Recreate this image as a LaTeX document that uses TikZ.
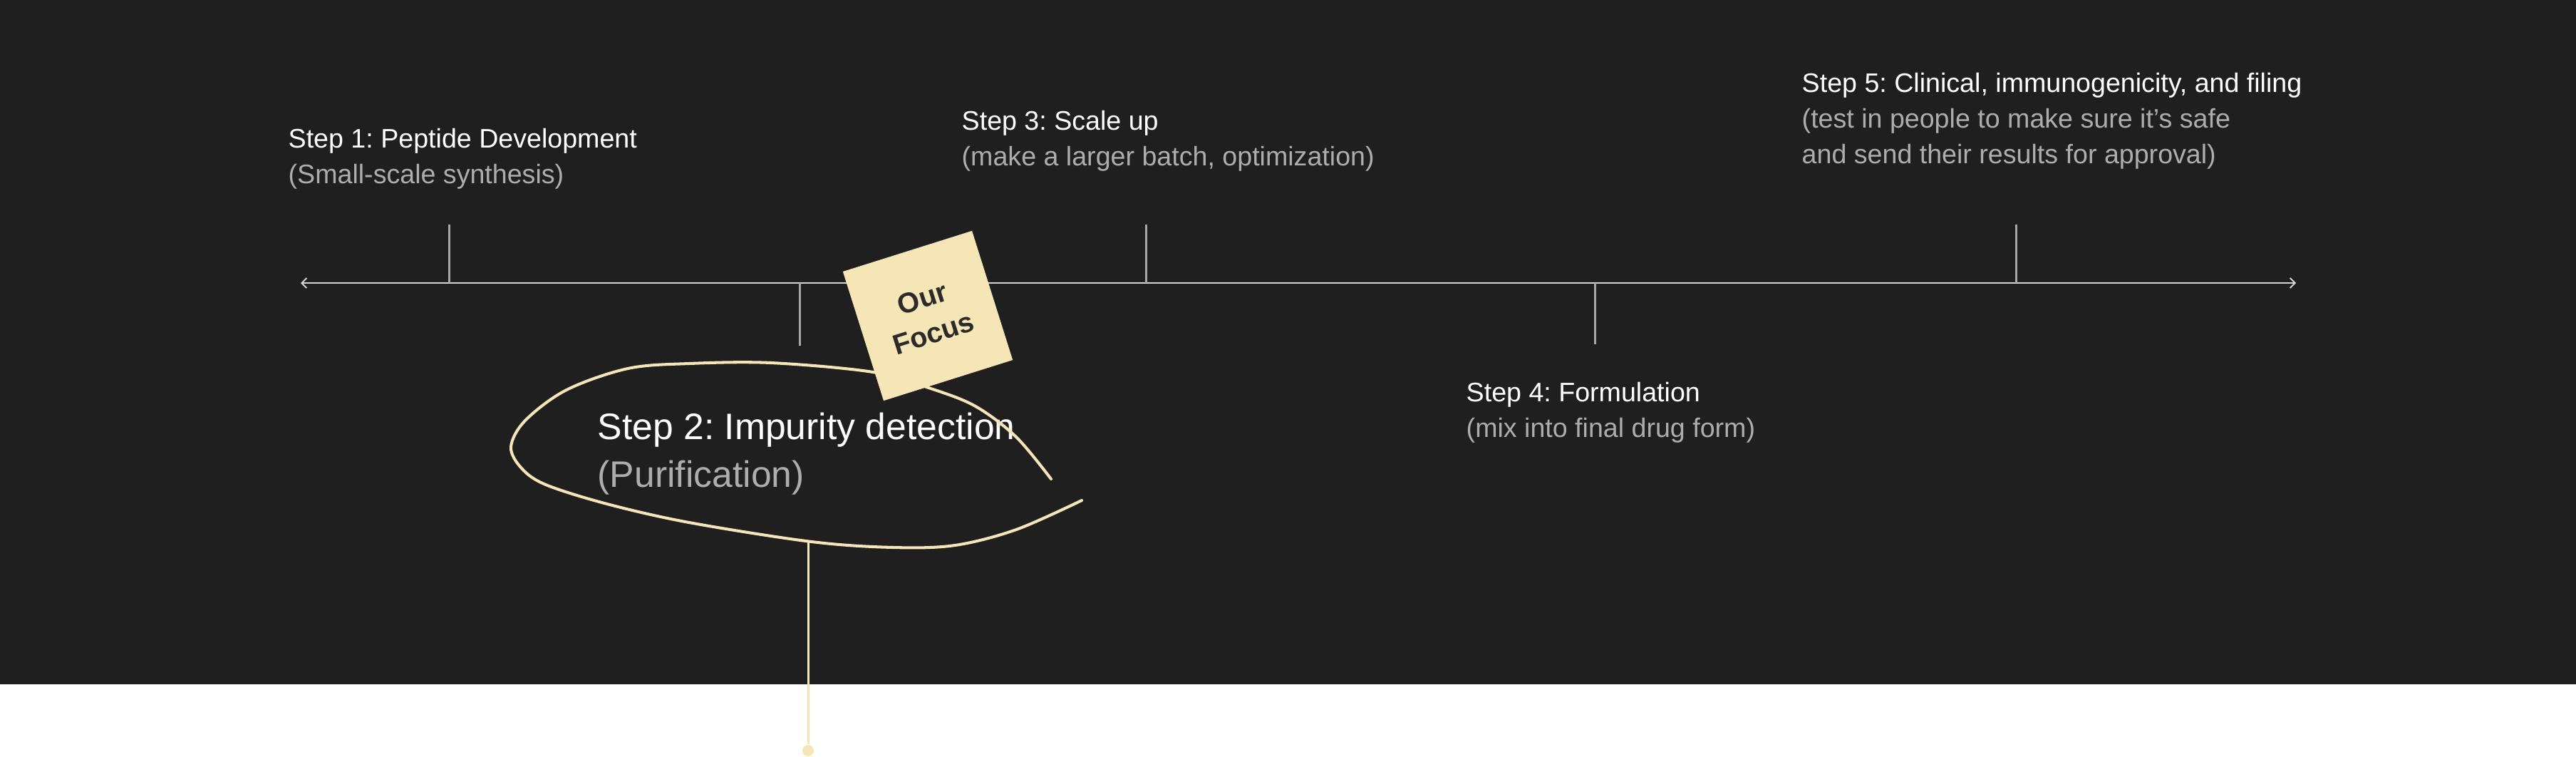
\documentclass[tikz,border=0pt]{standalone}
\usepackage{fontspec}
\setmainfont{Liberation Sans}
\usepackage{xcolor}
\usepackage{tikz}
\usetikzlibrary{arrows.meta, positioning}
\frenchspacing
\definecolor{bgdark}{HTML}{1F1F1F}
\definecolor{notepaper}{HTML}{F6E6B6}
\definecolor{subgray}{HTML}{ADADAD}
\definecolor{axisgray}{HTML}{D4D4D4}
\definecolor{tickgray}{HTML}{A8A8A8}
\definecolor{focusink}{HTML}{2B2B2B}
\tikzset{
  steplabel/.style={
    align=left, inner sep=0pt, anchor=north west, text=white,
    font=\fontsize{10.7}{14.2}\selectfont
  },
  focuslabel/.style={steplabel, font=\fontsize{14.7}{19.3}\selectfont},
  stickynote/.style={
    fill=notepaper, minimum size=1.9cm, inner sep=0pt, align=center,
    text=focusink, font=\bfseries\fontsize{11.3}{14.6}\selectfont
  },
  timeline/.style={{Straight Barb[length=0.7mm,width=1.4mm]}-{Straight Barb[length=0.7mm,width=1.4mm]}, axisgray, line width=0.55pt},
  tickline/.style={tickgray, line width=0.85pt},
  loopline/.style={notepaper, line width=1.15pt, line cap=round},
  pinline/.style={notepaper, line width=0.85pt},
  pindot/.style={circle, fill=notepaper, minimum size=0.16cm, inner sep=0pt},
}

\begin{document}
\begin{tikzpicture}
  % Canvas
  \fill[white] (0,0) rectangle (36.15,-10.61);
  \fill[bgdark] (0,0) rectangle (36.15,-9.60);
  \useasboundingbox (0,0) rectangle (36.15,-10.61);

  % Timeline axis
  \coordinate (axisL) at (4.22,-3.97);
  \coordinate (axisR) at (32.22,-3.97);
  \draw[timeline] (axisL) -- (axisR);

  % Ticks
  \coordinate (tick1) at (6.30,-3.97);  \coordinate (tick1end) at (6.30,-3.15);
  \coordinate (tick2) at (11.22,-3.97); \coordinate (tick2end) at (11.22,-4.85);
  \coordinate (tick3) at (16.08,-3.97); \coordinate (tick3end) at (16.08,-3.15);
  \coordinate (tick4) at (22.38,-3.97); \coordinate (tick4end) at (22.38,-4.83);
  \coordinate (tick5) at (28.29,-3.97); \coordinate (tick5end) at (28.29,-3.15);
  \draw[tickline] (tick1) -- (tick1end);
  \draw[tickline] (tick2) -- (tick2end);
  \draw[tickline] (tick3) -- (tick3end);
  \draw[tickline] (tick4) -- (tick4end);
  \draw[tickline] (tick5) -- (tick5end);

  % Step labels
  \node[steplabel] (step1) at (4.04,-1.80) {Step 1: Peptide Development\\\textcolor{subgray}{(Small-scale synthesis)}};
  \node[steplabel] (step3) at (13.49,-1.55) {Step 3: Scale up\\\textcolor{subgray}{(make a larger batch, optimization)}};
  \node[steplabel] (step4) at (20.57,-5.36) {Step 4: Formulation\\\textcolor{subgray}{(mix into final drug form)}};
  \node[steplabel] (step5) at (25.28,-1.02) {Step 5: Clinical, immunogenicity, and filing\\\textcolor{subgray}{(test in people to make sure it’s safe}\\\textcolor{subgray}{and send their results for approval)}};
  \node[focuslabel] (step2) at (8.38,-5.78) {Step 2: Impurity detection\\\textcolor{subgray}{(Purification)}};

  % Hand-drawn loop round step 2
  \draw[loopline] plot[smooth, tension=0.55] coordinates {
    (14.75,-6.72) (14.26,-6.13) (13.69,-5.70) (13.06,-5.45) (12.25,-5.22)
    (10.82,-5.09) (9.67,-5.10) (8.81,-5.17) (7.95,-5.47) (7.37,-5.90)
    (7.17,-6.27) (7.32,-6.57) (7.66,-6.80) (8.52,-7.07) (9.67,-7.33)
    (11.39,-7.60) (12.54,-7.68) (13.40,-7.65) (14.26,-7.43) (15.18,-7.02)};

  % Sticky note
  \node[stickynote, rotate=17.5] (focus) at (13.02,-4.43) {Our\\Focus};

  % Pin down to the next section
  \coordinate (loopbot) at (11.34,-7.61);
  \node[pindot] (pin) at (11.34,-10.53) {};
  \draw[pinline] (loopbot) -- (pin);
\end{tikzpicture}
\end{document}
